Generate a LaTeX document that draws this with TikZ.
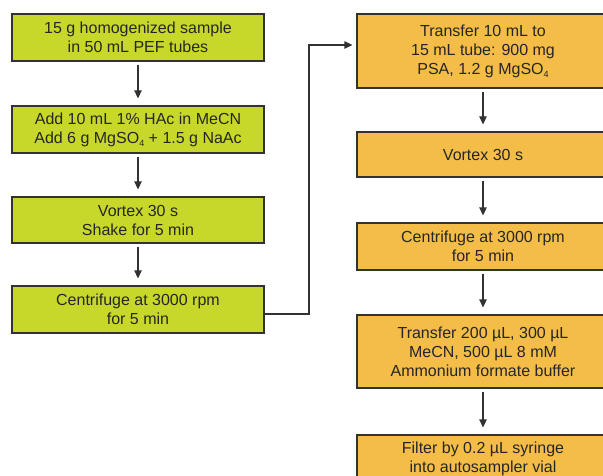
\documentclass[tikz,border=0pt]{standalone}
\usepackage{fontspec}
\setmainfont{Liberation Sans}
\usetikzlibrary{arrows.meta,calc}
\definecolor{boxgreen}{RGB}{200,216,42}
\definecolor{boxorange}{RGB}{244,189,72}
\definecolor{edgegray}{RGB}{50,50,50}
\newcommand{\subfour}{\raisebox{-3.5pt}{\fontsize{9}{9}\selectfont 4}}
\begin{document}
\begin{tikzpicture}[x=1pt,y=1pt,
  stepbox/.style={draw=edgegray, line width=1.3pt, minimum width=252pt, inner sep=0pt,
    align=center, font=\fontsize{16}{19}\selectfont, text=black!85},
  greenbox/.style={stepbox, fill=boxgreen},
  orangebox/.style={stepbox, fill=boxorange},
  arr/.style={draw=edgegray, line width=1.3pt, -{Triangle[width=7.5pt,length=8pt]},
    shorten <=3pt, shorten >=7pt}]
\clip (0,0) rectangle (603,475);
\fill[white] (0,0) rectangle (603,475);
% left column
\node[greenbox, minimum height=47pt] (b1) at (138,437.5) {15 g homogenized sample\\in 50 mL PEF tubes};
\node[greenbox, minimum height=47pt] (b2) at (138,345.5) {Add 10 mL 1\% HAc in MeCN\\Add 6 g MgSO\subfour{} + 1.5 g NaAc};
\node[greenbox, minimum height=46pt] (b3) at (138,255) {Vortex 30 s\\Shake for 5 min};
\node[greenbox, minimum height=47pt] (b4) at (138,165.5) {Centrifuge at 3000 rpm\\for 5 min};
% right column
\node[orangebox, minimum height=74pt] (r1) at (483,424) {Transfer 10 mL to\\15 mL tube: 900 mg\\PSA, 1.2 g MgSO\subfour};
\node[orangebox, minimum height=45pt] (r2) at (483,320.5) {Vortex 30 s};
\node[orangebox, minimum height=47pt] (r3) at (483,228.5) {Centrifuge at 3000 rpm\\for 5 min};
\node[orangebox, minimum height=73pt] (r4) at (483,123.5) {Transfer 200 µL, 300 µL\\MeCN, 500 µL 8 mM\\Ammonium formate buffer};
\node[orangebox, minimum height=47pt] (r5) at (483,16.5) {Filter by 0.2 µL syringe\\into autosampler vial};
% arrows
\draw[arr] (b1) -- (b2);
\draw[arr] (b2) -- (b3);
\draw[arr] (b3) -- (b4);
\draw[arr] (r1) -- (r2);
\draw[arr] (r2) -- (r3);
\draw[arr] (r3) -- (r4);
\draw[arr] (r4) -- (r5);
% connector
\coordinate (t1) at (309,161);
\coordinate (t2) at (309,430);
\draw[draw=edgegray, line width=1.3pt, -{Triangle[width=7.5pt,length=8pt]}, shorten >=4pt]
  (b4.east |- t1) -- (t1) -- (t2) -- (r1.west |- t2);
\end{tikzpicture}
\end{document}
